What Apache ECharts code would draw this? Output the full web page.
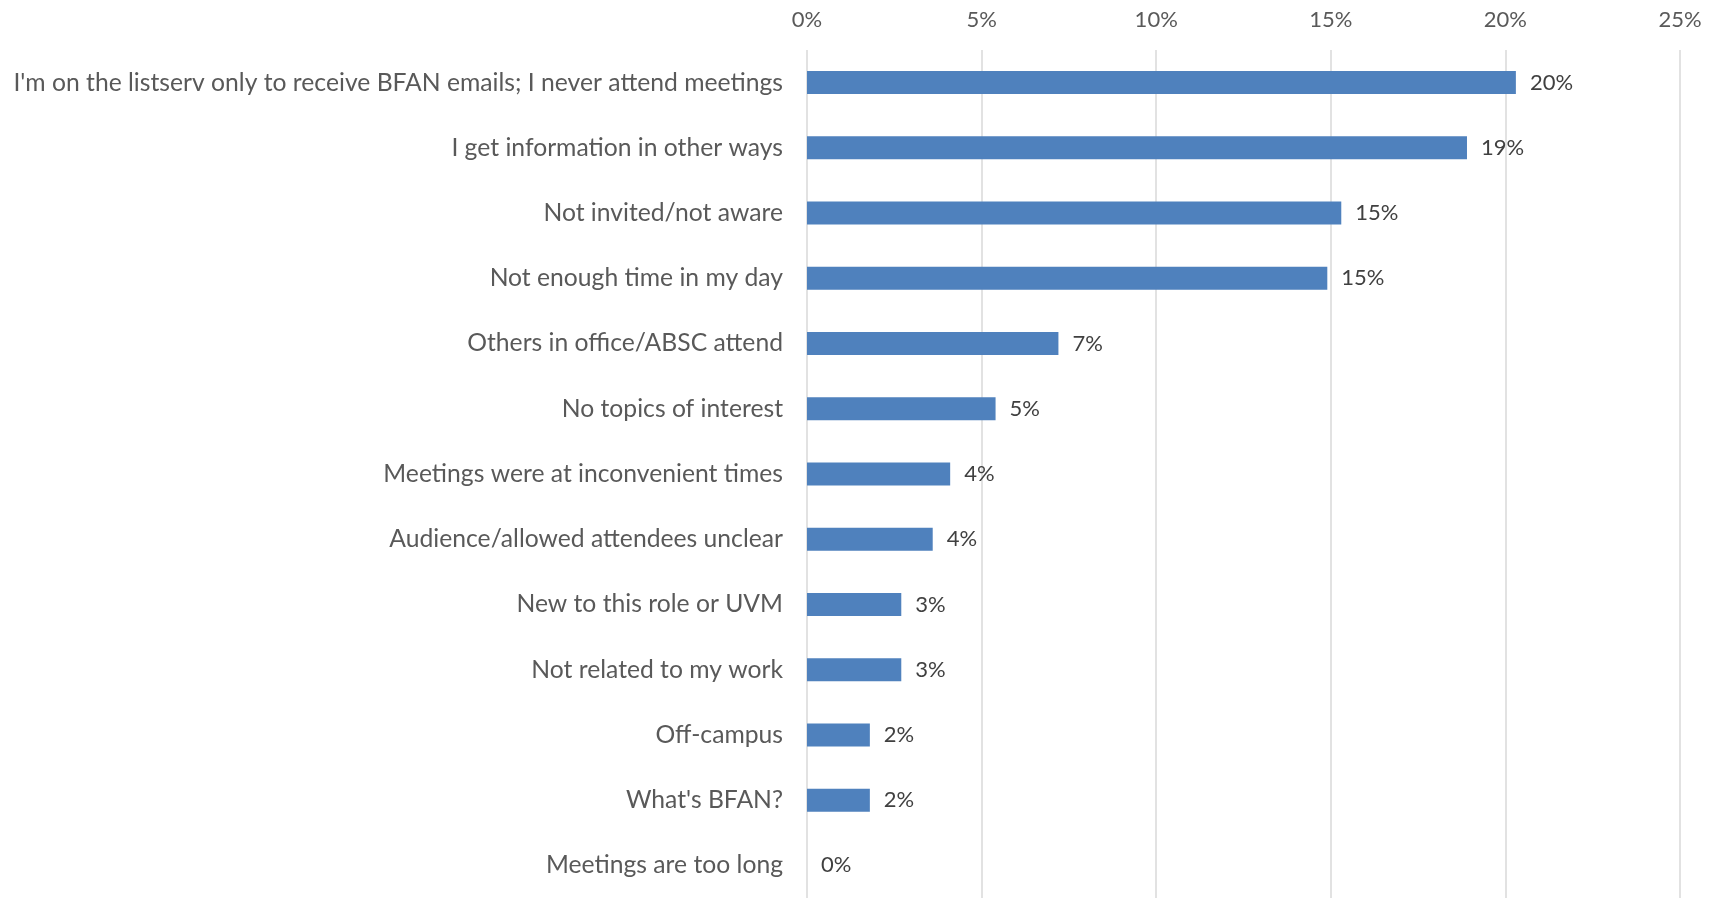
<!DOCTYPE html>
<html>
<head>
<meta charset="utf-8">
<script src="https://cdn.jsdelivr.net/npm/echarts@6/dist/echarts.min.js"></script>
<style>
  html, body { margin: 0; padding: 0; background: #fff; }
  #chart { width: 1717px; height: 898px; }
</style>
</head>
<body>
<div id="chart"></div>
<script>
// Reasons for not attending BFAN meetings (share of respondents, %)
const categories = [
  "I'm on the listserv only to receive BFAN emails; I never attend meetings",
  "I get information in other ways",
  "Not invited/not aware",
  "Not enough time in my day",
  "Others in office/ABSC attend",
  "No topics of interest",
  "Meetings were at inconvenient times",
  "Audience/allowed attendees unclear",
  "New to this role or UVM",
  "Not related to my work",
  "Off-campus",
  "What's BFAN?",
  "Meetings are too long"
];
const shares = [20.3, 18.9, 15.3, 14.9, 7.2, 5.4, 4.1, 3.6, 2.7, 2.7, 1.8, 1.8, 0];
const tickValues = [0, 5, 10, 15, 20, 25];

const FONT = 'Lato, "Open Sans", sans-serif';
const chart = echarts.init(document.getElementById('chart'), null, { renderer: 'canvas' });

chart.setOption({
  animation: false,
  backgroundColor: '#ffffff',
  grid: { left: 807, right: 37, top: 50, bottom: 0, containLabel: false },
  xAxis: {
    type: 'value',
    position: 'top',
    min: tickValues[0],
    max: tickValues[tickValues.length - 1],
    interval: 5,
    axisLine: { show: false },
    axisTick: { show: false },
    axisLabel: {
      formatter: v => v + '%',
      color: '#595959',
      fontFamily: FONT,
      fontSize: 22,
      margin: 19
    },
    splitLine: { show: true, lineStyle: { color: '#d9d9d9', width: 1.5 } }
  },
  yAxis: {
    type: 'category',
    data: categories,
    inverse: true,
    axisLine: { show: false },
    axisTick: { show: false },
    splitLine: { show: false },
    axisLabel: {
      color: '#595959',
      fontFamily: FONT,
      fontSize: 24.7,
      margin: 24,
      padding: [3, 0, 0, 0]
    }
  },
  series: [{
    type: 'bar',
    data: shares,
    barWidth: 23,
    itemStyle: { color: '#4f81bd' },
    label: {
      show: true,
      position: 'right',
      distance: 14,
      formatter: p => Math.round(p.value) + '%',
      color: '#404040',
      fontFamily: FONT,
      fontSize: 22,
      padding: [3, 0, 0, 0]
    }
  }]
});
</script>
</body>
</html>
